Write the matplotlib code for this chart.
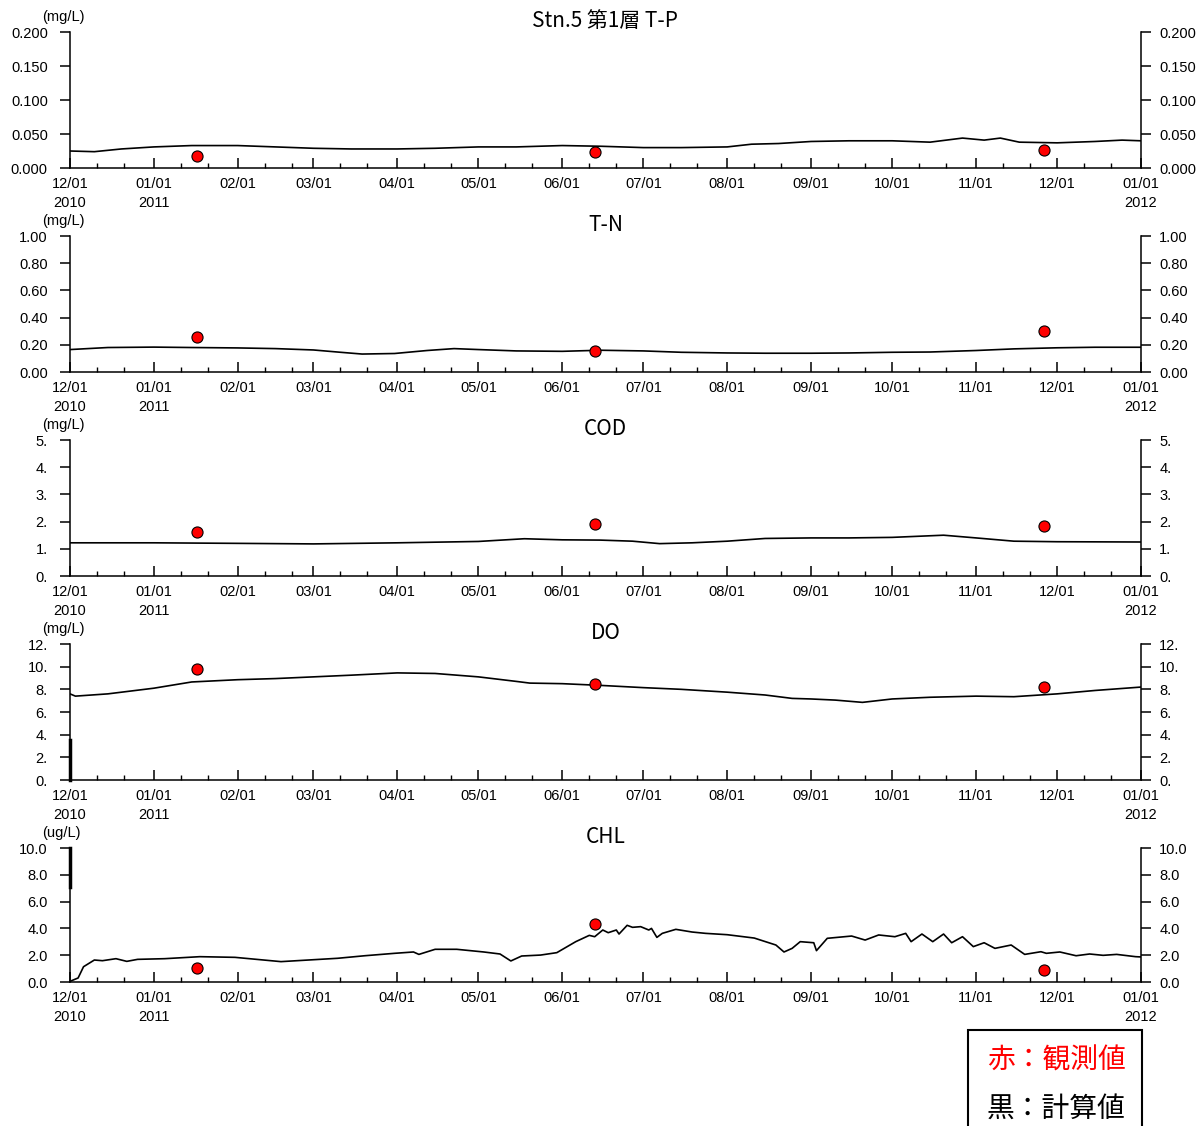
import numpy as np
import matplotlib
matplotlib.use('Agg')
import matplotlib.pyplot as plt
from matplotlib.patches import Rectangle
from matplotlib.transforms import ScaledTranslation

plt.rcParams['font.family'] = ['Liberation Sans', 'DejaVu Sans']
CJK = ['Noto Sans CJK JP', 'DejaVu Sans']

# days counted from 2010-12-01
start = np.datetime64('2010-12-01')
end = np.datetime64('2012-01-01')

obs_days = [47, 194, 360]

tp_days = [0, 9, 19, 31, 45, 62, 76, 90, 104, 121, 135, 151, 165, 182, 196, 212,
           226, 243, 252, 262, 274, 288, 304, 318, 330, 338, 344, 351, 365, 379, 389, 396]
tp_vals = [0.025, 0.024, 0.028, 0.031, 0.033, 0.033, 0.031, 0.029, 0.028, 0.028, 0.029,
           0.031, 0.031, 0.033, 0.032, 0.030, 0.030, 0.031, 0.035, 0.036, 0.039, 0.040,
           0.040, 0.038, 0.044, 0.041, 0.044, 0.038, 0.037, 0.039, 0.041, 0.040]
tp_obs = [0.018, 0.023, 0.026]

tn_days = [0, 14, 31, 45, 62, 76, 90, 100, 108, 120, 132, 142, 151, 165, 182, 196, 212,
           226, 243, 257, 274, 288, 304, 318, 335, 349, 365, 379, 396]
tn_vals = [0.165, 0.180, 0.183, 0.180, 0.177, 0.172, 0.162, 0.145, 0.132, 0.136, 0.158,
           0.172, 0.165, 0.155, 0.152, 0.160, 0.155, 0.145, 0.140, 0.138, 0.138, 0.140,
           0.145, 0.147, 0.158, 0.170, 0.178, 0.182, 0.182]
tn_obs = [0.255, 0.155, 0.30]

cod_days = [0, 31, 62, 90, 121, 151, 168, 182, 196, 208, 218, 230, 243, 257, 274, 288,
            304, 323, 335, 349, 365, 396]
cod_vals = [1.22, 1.22, 1.20, 1.18, 1.22, 1.27, 1.37, 1.33, 1.32, 1.28, 1.19, 1.22, 1.28,
            1.38, 1.40, 1.40, 1.42, 1.50, 1.40, 1.28, 1.26, 1.25]
cod_obs = [1.62, 1.91, 1.84]

do_days = [0, 2, 14, 31, 45, 62, 76, 90, 104, 121, 135, 151, 165, 170, 182, 196, 212,
           226, 243, 257, 267, 274, 283, 293, 304, 318, 335, 349, 365, 379, 396]
do_vals = [7.6, 7.4, 7.6, 8.1, 8.65, 8.85, 8.95, 9.1, 9.25, 9.45, 9.4, 9.1, 8.7, 8.55, 8.5,
           8.35, 8.15, 8.0, 7.75, 7.5, 7.2, 7.15, 7.05, 6.85, 7.15, 7.3, 7.4, 7.35, 7.6, 7.9, 8.2]
do_obs = [9.77, 8.47, 8.18]

chl_days = [0, 3, 5, 9, 12, 17, 21, 25, 35, 48, 61, 78, 99, 109, 120, 127, 129, 135, 143,
            153, 159, 163, 167, 174, 180, 187, 192, 194, 197, 199, 202, 203, 206, 208, 211,
            214, 215, 217, 219, 224, 230, 235, 243, 253, 261, 264, 267, 270, 275, 276, 280,
            289, 294, 299, 305, 309, 311, 315, 319, 323, 326, 330, 334, 338, 342, 348, 353,
            359, 361, 366, 372, 377, 382, 387, 394, 396]
chl_vals = [0.05, 0.3, 1.14, 1.64, 1.59, 1.74, 1.54, 1.69, 1.74, 1.89, 1.84, 1.52, 1.77,
            1.96, 2.14, 2.24, 2.06, 2.44, 2.44, 2.24, 2.09, 1.57, 1.94, 2.01, 2.19, 3.01,
            3.48, 3.38, 3.88, 3.68, 3.88, 3.58, 4.23, 4.08, 4.13, 3.88, 4.0, 3.33, 3.63,
            3.93, 3.73, 3.63, 3.53, 3.28, 2.76, 2.24, 2.51, 3.01, 2.93, 2.34, 3.26, 3.43,
            3.13, 3.51, 3.38, 3.63, 3.01, 3.58, 3.01, 3.58, 2.93, 3.38, 2.64, 2.93, 2.51,
            2.76, 2.06, 2.26, 2.14, 2.24, 1.96, 2.09, 1.99, 2.06, 1.89, 1.87]
chl_obs = [1.02, 4.35, 0.86]

titles = ['Stn.5 第1層 T-P', 'T-N', 'COD', 'DO', 'CHL']
units = ['(mg/L)', '(mg/L)', '(mg/L)', '(mg/L)', '(ug/L)']
yticks = [[0, 0.05, 0.10, 0.15, 0.20],
          [0, 0.2, 0.4, 0.6, 0.8, 1.0],
          [0, 1, 2, 3, 4, 5],
          [0, 2, 4, 6, 8, 10, 12],
          [0, 2, 4, 6, 8, 10]]
ylabels = [['0.000', '0.050', '0.100', '0.150', '0.200'],
           ['0.00', '0.20', '0.40', '0.60', '0.80', '1.00'],
           ['0.', '1.', '2.', '3.', '4.', '5.'],
           ['0.', '2.', '4.', '6.', '8.', '10.', '12.'],
           ['0.0', '2.0', '4.0', '6.0', '8.0', '10.0']]
series = [(tp_days, tp_vals, tp_obs), (tn_days, tn_vals, tn_obs),
          (cod_days, cod_vals, cod_obs), (do_days, do_vals, do_obs),
          (chl_days, chl_vals, chl_obs)]

month_ticks = np.arange(np.datetime64('2010-12'), np.datetime64('2012-02'),
                        np.timedelta64(1, 'M')).astype('datetime64[D]')
month_labels = []
for m in month_ticks:
    s = str(m)
    lab = s[5:7] + '/' + s[8:10]
    if s in ('2010-12-01', '2011-01-01', '2012-01-01'):
        lab += '\n' + s[:4]
    month_labels.append(lab)
minor_ticks = []
for m in month_ticks[:-1]:
    minor_ticks += [m + 10, m + 20]

W, H = 1201, 1126
fig = plt.figure(figsize=(W / 100, H / 100), dpi=100)

tops = [32, 236, 440, 644, 848]
bottoms = [168, 372, 576, 780, 982]
left, right = 70, 1141
shift = ScaledTranslation(-4 / 100, 0, fig.dpi_scale_trans)

for i in range(5):
    ax = fig.add_axes([left / W, 1 - bottoms[i] / H, (right - left) / W,
                       (bottoms[i] - tops[i]) / H])
    days, vals, obs = series[i]
    ax.plot(start + np.array(days), vals, color='black', lw=1.2, zorder=2)
    ax.plot(start + np.array(obs_days), obs, 'o', ms=8, mfc='#ff0000', mec='black',
            mew=0.8, zorder=3, clip_on=False)
    ax.set_xlim(start, end)
    ax.set_ylim(yticks[i][0], yticks[i][-1])
    ax.set_yticks(yticks[i], ylabels[i])
    ax.set_xticks(month_ticks, month_labels)
    ax.set_xticks(minor_ticks, minor=True)
    ax.spines['top'].set_visible(False)
    for s in ('left', 'right', 'bottom'):
        ax.spines[s].set_linewidth(1.1)
    ax.tick_params(axis='x', which='major', direction='in', length=7, width=1.1,
                   labelsize=10.5, pad=6.5)
    ax.tick_params(axis='x', which='minor', direction='in', length=3.5, width=1.0)
    for lab in ax.get_xticklabels():
        lab.set_linespacing(1.45)
    ax.tick_params(axis='y', which='major', direction='out', length=7, width=1.1,
                   labelsize=10.5, pad=9, left=True, right=True, labelleft=True,
                   labelright=True)
    for t in ax.yaxis.get_major_ticks():
        t.label2.set_transform(t.label2.get_transform() + shift)
    ax.set_title(titles[i], family=CJK, fontsize=15, pad=1)
    ax.annotate(units[i], xy=(0, 1), xycoords='axes fraction', xytext=(-20, 11),
                textcoords='offset points', ha='left', va='center', fontsize=10.5)

    # drawing glitches on the left axis of the reference
    if i == 3:
        ax.plot([start, start], [0, 3.5], color='black', lw=2.5, clip_on=False)
    if i == 4:
        ax.plot([start, start], [7.1, 10], color='black', lw=2.5, clip_on=False)

# legend box
fig.patches.append(Rectangle((968 / W, -0.05), 174 / W, 0.05 + 1 - 1030 / H,
                             transform=fig.transFigure, fill=False,
                             edgecolor='black', lw=1.5))
fig.text(1056 / W, 1 - 1061 / H, '赤：観測値', family=CJK, fontsize=20,
         color='#ff0000', ha='center', va='center')
fig.text(1056 / W, 1 - 1109 / H, '黒：計算値', family=CJK, fontsize=20,
         color='black', ha='center', va='center')

fig.savefig('out.png', dpi=100)
